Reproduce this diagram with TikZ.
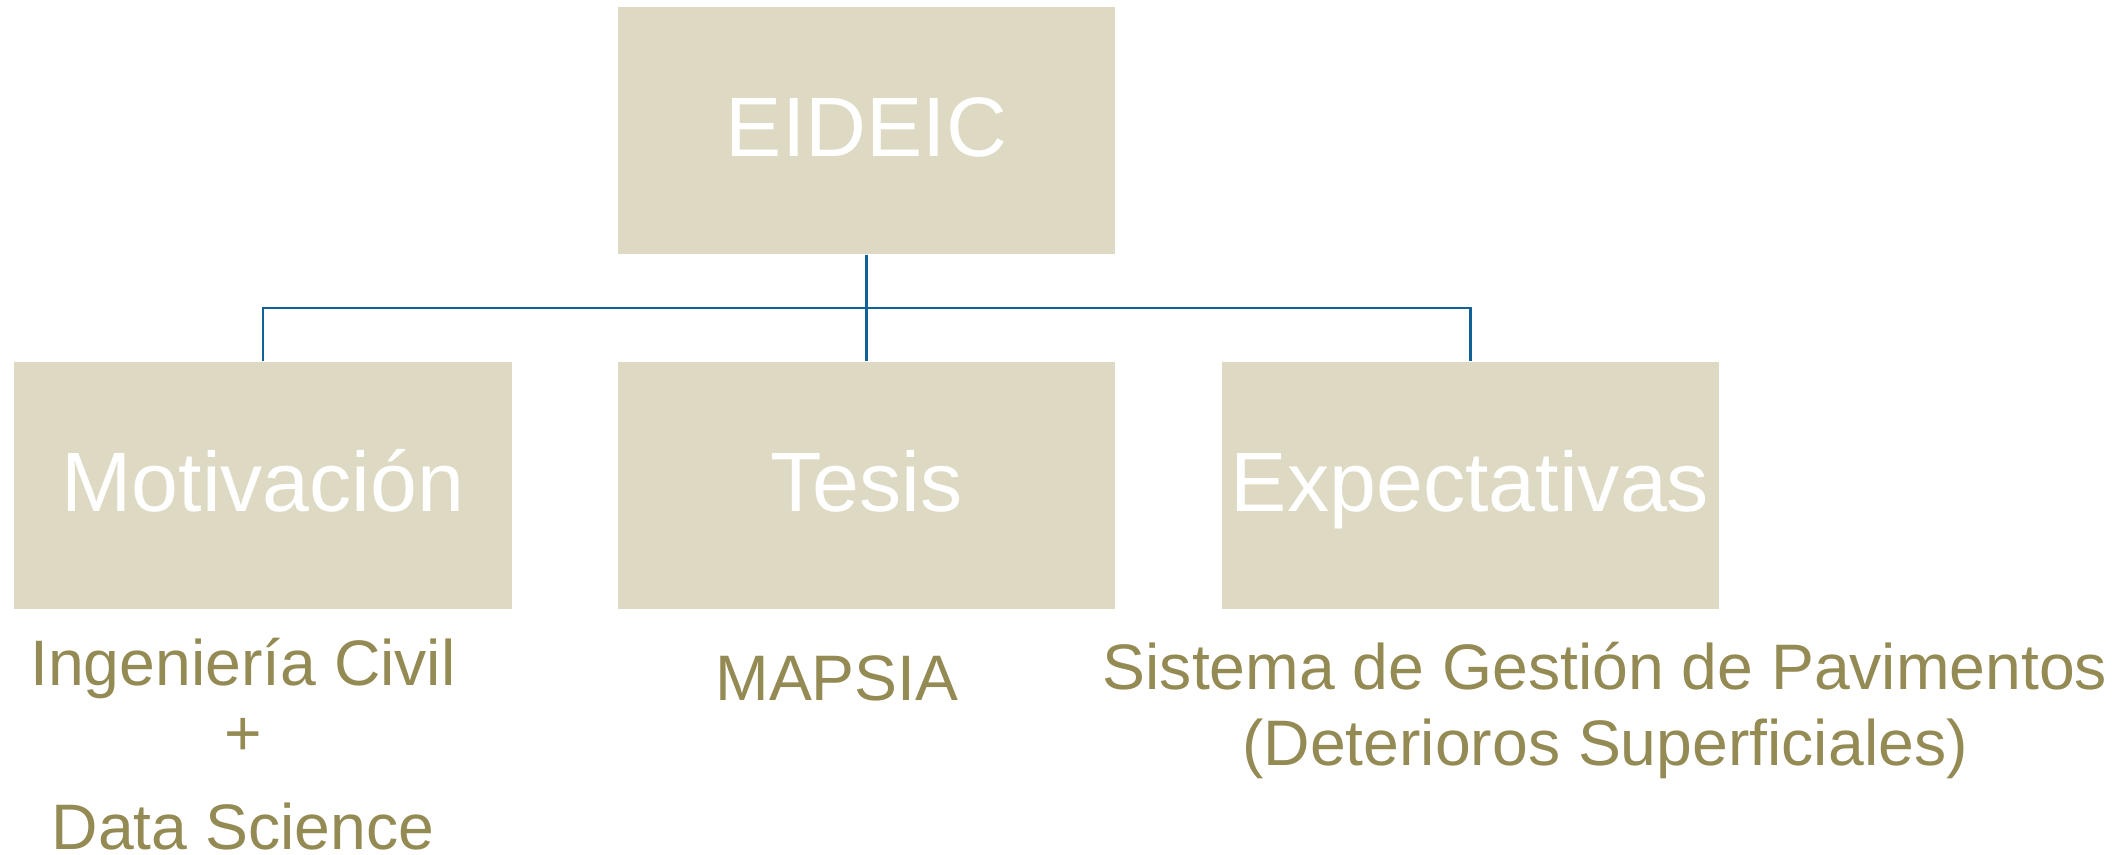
\documentclass[tikz,border=0pt]{standalone}
\usepackage{fontspec}
\setmainfont{Liberation Sans}
\usetikzlibrary{trees}
\definecolor{boxtan}{HTML}{DDD9C3}
\definecolor{olivetext}{HTML}{948A54}
\definecolor{linkblue}{RGB}{16,98,153}
\tikzset{
  block/.style={fill=boxtan, text=white, minimum width=4.97cm, minimum height=2.47cm,
    inner sep=0pt, font=\fontsize{24}{29}\selectfont, text height=19.4pt, text depth=4.8pt},
  sublabel/.style={text=olivetext, align=center, inner sep=0pt, anchor=base}
}
\begin{document}
\begin{tikzpicture}
  \useasboundingbox (0,0) rectangle (21.26,-8.55);
  \node[block] (eideic) at (8.665,-1.305) {EIDEIC}[level distance=3.55cm, sibling distance=6.035cm,
      edge from parent fork down, edge from parent/.style={draw, linkblue, line width=0.85pt}]
    child {node[block] (motiv) {Motivación}}
    child {node[block] (tesis) {Tesis}}
    child {node[block] (expect) {Expectativas}};
  % texts under the boxes
  \node[sublabel, font=\fontsize{18.3}{19.9}\selectfont] (ingciv) at (2.43,-8.50)
    {Ingeniería Civil\\+\\[7pt]Data Science};
  \node[sublabel, font=\fontsize{18.3}{22}\selectfont] (mapsia) at (8.37,-7.01) {MAPSIA};
  \node[sublabel, font=\fontsize{18.3}{21.9}\selectfont] (sgp) at (16.05,-7.66)
    {Sistema de Gestión de Pavimentos\\(Deterioros Superficiales)};
\end{tikzpicture}
\end{document}
